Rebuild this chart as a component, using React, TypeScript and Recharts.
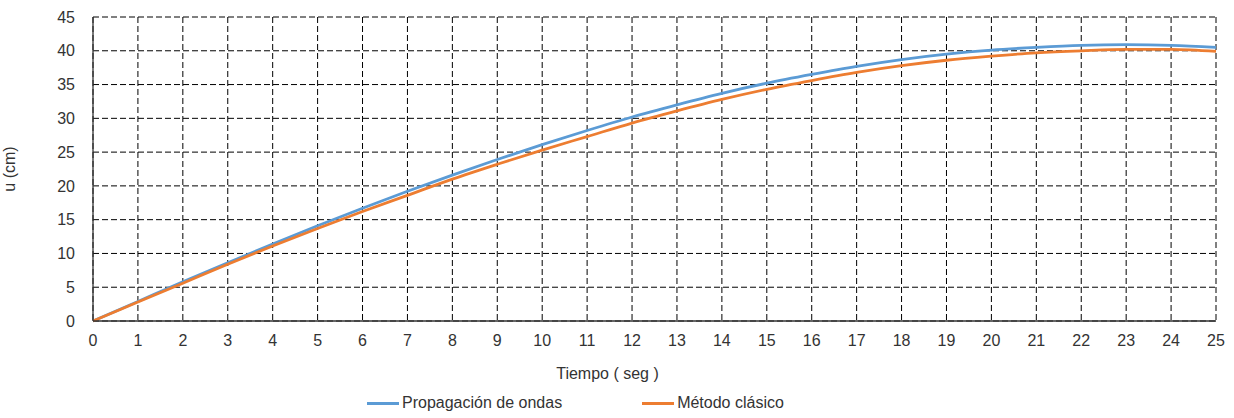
import { LineChart, Line, XAxis, YAxis, CartesianGrid, Legend, Label } from 'recharts';

// tiempo (seg)
const tiempo = [0, 1, 2, 3, 4, 5, 6, 7, 8, 9, 10, 11, 12, 13, 14, 15, 16, 17, 18, 19, 20, 21, 22, 23, 24, 25];

// u (cm)
const propagacion = [
  0, 2.9, 5.8, 8.6, 11.4, 14.1, 16.7, 19.2, 21.6, 23.9, 26.1, 28.2, 30.2, 32.0, 33.7,
  35.2, 36.5, 37.7, 38.7, 39.5, 40.1, 40.5, 40.8, 40.9, 40.8, 40.5,
];
const clasico = [
  0, 2.8, 5.6, 8.4, 11.1, 13.7, 16.2, 18.6, 21.0, 23.2, 25.3, 27.3, 29.3, 31.1, 32.8,
  34.3, 35.6, 36.8, 37.8, 38.6, 39.2, 39.7, 40.0, 40.2, 40.2, 39.9,
];

const seriesNames = ['Propagación de ondas', 'Método clásico'];
const xTicks = tiempo;
const yTicks = [0, 5, 10, 15, 20, 25, 30, 35, 40, 45];

const data = tiempo.map((t, i) => ({ t, onda: propagacion[i], clasico: clasico[i] }));

const FONT = '"Liberation Sans", Arial, sans-serif';
const TEXT = '#333333';
const AXIS = '#333333';

const LegendContent = ({ payload }: any) => {
  const items = [...(payload || [])].sort(
    (a: any, b: any) => seriesNames.indexOf(a.value) - seriesNames.indexOf(b.value),
  );
  return (
    <div style={{ display: 'flex', gap: 80, fontFamily: FONT, fontSize: 16, color: TEXT }}>
      {items.map((p: any) => (
        <div key={p.value} style={{ display: 'flex', alignItems: 'center' }}>
          <span style={{ display: 'inline-block', width: 32, height: 3, background: p.color, marginRight: 3 }} />
          <span>{p.value}</span>
        </div>
      ))}
    </div>
  );
};

export default function App() {
  return (
    <div style={{ position: 'absolute', left: 0, top: 0, background: '#fff' }}>
      <LineChart
        width={1234}
        height={418}
        data={data}
        margin={{ top: 17, right: 18, left: 0, bottom: 37 }}
      >
        <CartesianGrid stroke="#000" strokeDasharray="6 3" strokeWidth={1} />
        <XAxis
          dataKey="t"
          type="number"
          domain={[0, 25]}
          ticks={xTicks}
          interval={0}
          height={60}
          tickLine={false}
          tickSize={0}
          tickMargin={14}
          axisLine={{ stroke: AXIS, strokeWidth: 1.3 }}
          tick={{ fill: TEXT, fontSize: 16, fontFamily: FONT }}
        >
          <Label
            value="Tiempo ( seg )"
            position="insideBottom"
            offset={2}
            dx={-47}
            style={{ fill: TEXT, fontSize: 16, fontFamily: FONT }}
          />
        </XAxis>
        <XAxis
          xAxisId="top"
          orientation="top"
          type="number"
          domain={[0, 25]}
          height={0}
          tick={false}
          tickLine={false}
          axisLine={{ stroke: AXIS, strokeWidth: 1.3 }}
        />
        <YAxis
          type="number"
          domain={[0, 45]}
          ticks={yTicks}
          interval={0}
          width={93}
          tickLine={false}
          tickSize={0}
          tickMargin={18}
          axisLine={{ stroke: AXIS, strokeWidth: 1.3 }}
          tick={{ fill: TEXT, fontSize: 16, fontFamily: FONT }}
        >
          <Label
            value="u (cm)"
            angle={-90}
            position="insideLeft"
            offset={9}
            style={{ fill: TEXT, fontSize: 16, fontFamily: FONT, textAnchor: 'middle' }}
          />
        </YAxis>
        <YAxis
          yAxisId="right"
          orientation="right"
          type="number"
          domain={[0, 45]}
          width={0}
          tick={false}
          tickLine={false}
          axisLine={{ stroke: AXIS, strokeWidth: 1.3 }}
        />
        <Legend
          layout="horizontal"
          verticalAlign="middle"
          align="center"
          wrapperStyle={{ top: 394, left: 367 }}
          content={<LegendContent />}
        />
        <Line
          type="monotone"
          dataKey="onda"
          name={seriesNames[0]}
          stroke="#5b9bd5"
          strokeWidth={2.8}
          dot={false}
          isAnimationActive={false}
        />
        <Line
          type="monotone"
          dataKey="clasico"
          name={seriesNames[1]}
          stroke="#ed7d31"
          strokeWidth={2.8}
          dot={false}
          isAnimationActive={false}
        />
      </LineChart>
    </div>
  );
}
